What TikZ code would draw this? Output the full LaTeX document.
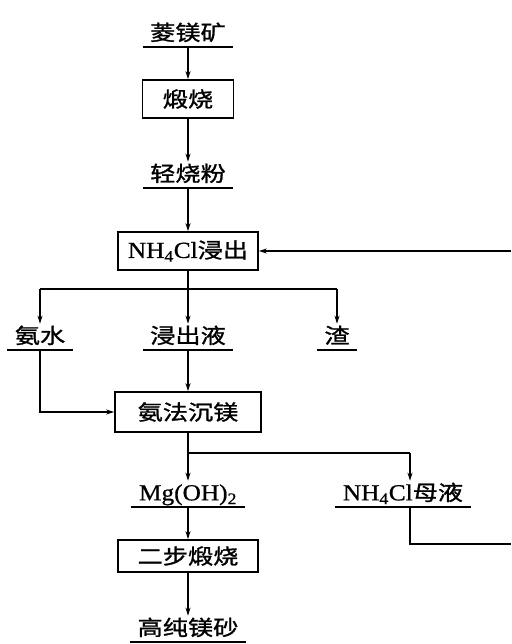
\documentclass[tikz,border=0pt]{standalone}
\usepackage{fontspec}
\setmainfont[FakeStretch=1.1,FakeBold=0.8]{Liberation Serif}
\newfontfamily\cjk[FakeStretch=1.2,FakeBold=1.2]{Noto Sans CJK SC}
\newcommand{\la}[1]{{\rmfamily\fontsize{23}{26}\selectfont #1}}
\usetikzlibrary{arrows.meta}
\begin{document}
\begin{tikzpicture}[x=1pt,y=-1pt,
  line width=1.3pt,
  arr/.style={-{Stealth[length=8pt,width=5pt]}},
  box/.style={draw, line width=1.7pt, inner sep=0pt, minimum height=38pt, font=\cjk\fontsize{21}{24}\selectfont},
  prod/.style={inner xsep=7pt, inner ysep=3pt, text height=16pt, text depth=3pt, anchor=south,
    font=\cjk\fontsize{21}{24}\selectfont,
    append after command={[line width=1.5pt] (\tikzlastnode.south west) edge (\tikzlastnode.south east)}}
]
\useasboundingbox (0,0) rectangle (511,644);
\node[prod] (ore) at (188,47) {菱镁矿};
\node[box, minimum width=91pt] (calc) at (188,99) {煅烧};
\node[prod] (light) at (188,188) {轻烧粉};
\node[box, minimum width=140pt] (leach) at (188,251) {\la{NH\textsubscript{4}Cl}浸出};
\coordinate (split1) at (188,289);
\node[prod] (ammo) at (40,350) {氨水};
\node[prod] (liq) at (188,350) {浸出液};
\node[prod] (res) at (337,350) {渣};
\node[box, minimum width=146pt, minimum height=40pt] (prec) at (188,412) {氨法沉镁};
\coordinate (split2) at (188,453);
\coordinate (split2b) at (410,453);
\node[prod] (mgoh) at (188,507) {\la{Mg(OH)\textsubscript{2}}};
\node[prod] (mother) at (403,507) {\la{NH\textsubscript{4}Cl}母液};
\node[box, minimum width=140pt, minimum height=32pt] (calc2) at (188,556) {二步煅烧};
\node[prod] (pure) at (188,642) {高纯镁砂};
\coordinate (edgeA) at (511,544);
\coordinate (edgeB) at (511,251);

\draw[arr] (ore) -- (calc);
\draw[arr] (calc) -- (light);
\draw[arr] (light) -- (leach);
\draw (leach) -- (split1);
\draw (split1 -| ammo) -- (split1 -| res);
\draw[arr] (split1 -| ammo) -- (ammo);
\draw[arr] (split1) -- (liq);
\draw[arr] (split1 -| res) -- (res);
\draw[arr] (liq) -- (prec);
\draw[arr] (ammo.south) |- (prec.west);
\draw (prec) -- (split2);
\draw (split2) -- (split2b);
\draw[arr] (split2) -- (mgoh);
\draw[arr] (split2b) -- (split2b |- mother.north);
\draw (split2b |- mother.south) |- (edgeA);
\draw[arr] (edgeB) -- (leach);
\draw[arr] (mgoh) -- (calc2);
\draw[arr] (calc2) -- (pure);
\end{tikzpicture}
\end{document}
